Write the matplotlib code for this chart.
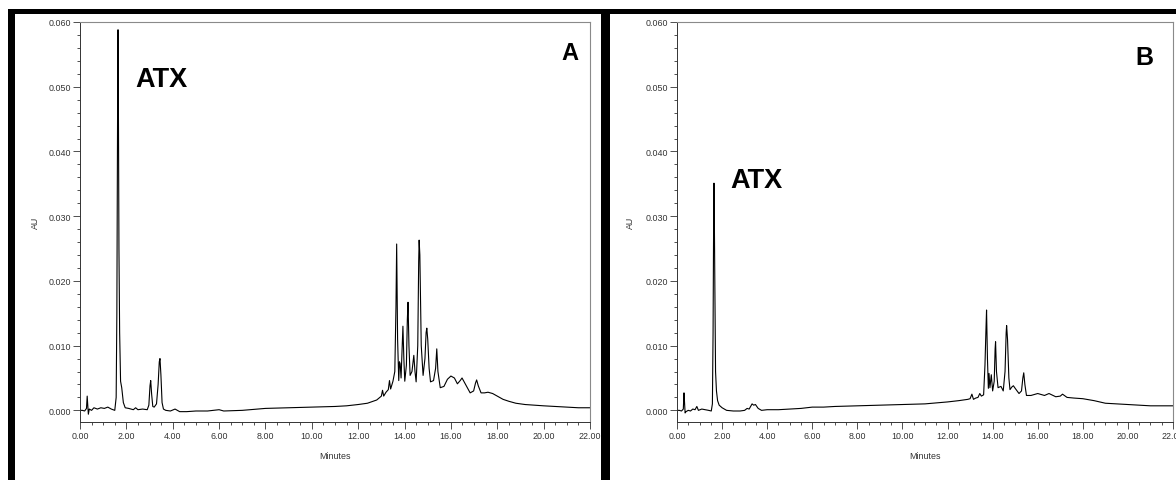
import matplotlib
matplotlib.use("Agg")
import matplotlib.pyplot as plt
from matplotlib.patches import Rectangle
from matplotlib.ticker import MultipleLocator, FormatStrFormatter

plt.rcParams['font.family'] = ['Liberation Sans', 'DejaVu Sans']

# chromatogram A (minutes, AU)
time_a = [0.00, 0.10, 0.20, 0.28, 0.31, 0.33, 0.36, 0.40, 0.50, 0.60, 0.75, 0.90, 1.05, 1.20,
          1.35, 1.50, 1.56, 1.59, 1.62, 1.64, 1.66, 1.68, 1.71, 1.75, 1.80, 1.87, 1.95, 2.10,
          2.30, 2.40, 2.50, 2.70, 2.90, 2.97, 3.02, 3.05, 3.09, 3.14, 3.20, 3.30, 3.37, 3.42,
          3.45, 3.49, 3.54, 3.60, 3.70, 3.90, 4.10, 4.30, 4.60, 5.00, 5.50, 6.00, 6.20, 7.00,
          8.00, 9.00, 10.00, 11.00, 11.50, 12.00, 12.40, 12.80, 13.00, 13.05, 13.10, 13.20,
          13.30, 13.35, 13.40, 13.50, 13.58, 13.63, 13.66, 13.70, 13.75, 13.78, 13.81, 13.85,
          13.90, 13.93, 13.97, 14.01, 14.08, 14.12, 14.15, 14.19, 14.24, 14.32, 14.40, 14.45,
          14.50, 14.57, 14.61, 14.63, 14.66, 14.72, 14.80, 14.88, 14.93, 14.96, 15.00, 15.06,
          15.12, 15.25, 15.34, 15.39, 15.44, 15.54, 15.70, 15.85, 16.00, 16.15, 16.28, 16.40,
          16.48, 16.60, 16.83, 16.98, 17.06, 17.11, 17.18, 17.30, 17.45, 17.60, 17.80, 18.00,
          18.25, 18.50, 18.80, 19.20, 19.60, 20.00, 20.50, 21.00, 21.50, 22.00]
au_a = [0.0000, 0.0000, -0.0001, 0.0003, 0.0022, 0.0010, -0.0006, 0.0002, 0.0000, 0.0004,
        0.0002, 0.0004, 0.0003, 0.0005, 0.0002, 0.0000, 0.0020, 0.0150, 0.0450, 0.0588,
        0.0440, 0.0250, 0.0120, 0.0045, 0.0035, 0.0012, 0.0004, 0.0003, 0.0001, 0.0004,
        0.0001, 0.0002, 0.0001, 0.0008, 0.0038, 0.0046, 0.0025, 0.0006, 0.0005, 0.0010,
        0.0040, 0.0075, 0.0080, 0.0055, 0.0012, 0.0002, 0.0000, -0.0001, 0.0002, -0.0002,
        -0.0002, -0.0001, -0.0001, 0.0001, -0.0001, 0.0000, 0.0003, 0.0004, 0.0005, 0.0006,
        0.0007, 0.0009, 0.0011, 0.0016, 0.0022, 0.0031, 0.0022, 0.0028, 0.0032, 0.0046,
        0.0033, 0.0045, 0.0060, 0.0160, 0.0257, 0.0110, 0.0046, 0.0075, 0.0072, 0.0050,
        0.0100, 0.0130, 0.0080, 0.0045, 0.0070, 0.0140, 0.0167, 0.0100, 0.0054, 0.0060,
        0.0085, 0.0060, 0.0044, 0.0100, 0.0230, 0.0263, 0.0240, 0.0100, 0.0054, 0.0080,
        0.0120, 0.0127, 0.0110, 0.0065, 0.0044, 0.0046, 0.0065, 0.0095, 0.0060, 0.0035,
        0.0037, 0.0048, 0.0053, 0.0050, 0.0041, 0.0046, 0.0050, 0.0042, 0.0027, 0.0030,
        0.0042, 0.0047, 0.0038, 0.0027, 0.0027, 0.0028, 0.0026, 0.0022, 0.0017, 0.0014,
        0.0011, 0.0009, 0.0008, 0.0007, 0.0006, 0.0005, 0.0004, 0.0004]

# chromatogram B (minutes, AU)
time_b = [0.00, 0.10, 0.20, 0.28, 0.31, 0.33, 0.36, 0.40, 0.50, 0.60, 0.70, 0.80, 0.88, 0.95,
          1.10, 1.25, 1.40, 1.52, 1.57, 1.60, 1.62, 1.64, 1.66, 1.68, 1.71, 1.75, 1.80, 1.87,
          2.00, 2.20, 2.50, 2.80, 3.00, 3.11, 3.20, 3.33, 3.40, 3.48, 3.60, 3.75, 4.00, 4.50,
          5.00, 5.50, 6.00, 6.50, 7.00, 8.00, 9.00, 10.00, 11.00, 12.00, 12.50, 12.90, 13.00,
          13.08, 13.15, 13.25, 13.35, 13.43, 13.50, 13.60, 13.66, 13.70, 13.73, 13.77, 13.81,
          13.84, 13.88, 13.94, 14.00, 14.07, 14.11, 14.13, 14.17, 14.24, 14.30, 14.37, 14.47,
          14.55, 14.60, 14.62, 14.66, 14.72, 14.77, 14.85, 14.92, 15.00, 15.17, 15.28, 15.34,
          15.38, 15.43, 15.50, 15.70, 16.00, 16.30, 16.50, 16.80, 17.00, 17.10, 17.30, 17.60,
          18.00, 18.50, 19.00, 19.50, 20.00, 20.50, 21.00, 21.50, 22.00]
au_b = [0.0000, 0.0000, -0.0001, 0.0002, 0.0027, 0.0015, -0.0004, -0.0002, 0.0000, -0.0001,
        0.0002, 0.0001, 0.0006, 0.0000, 0.0002, 0.0001, 0.0000, -0.0001, 0.0010, 0.0120,
        0.0260, 0.0351, 0.0280, 0.0188, 0.0060, 0.0030, 0.0015, 0.0008, 0.0004, 0.0000,
        -0.0001, -0.0001, 0.0000, 0.0003, 0.0002, 0.0010, 0.0008, 0.0009, 0.0003, 0.0000,
        0.0001, 0.0001, 0.0002, 0.0003, 0.0005, 0.0005, 0.0006, 0.0007, 0.0008, 0.0009,
        0.0010, 0.0013, 0.0015, 0.0017, 0.0018, 0.0025, 0.0017, 0.0019, 0.0020, 0.0026,
        0.0022, 0.0024, 0.0070, 0.0120, 0.0155, 0.0080, 0.0034, 0.0057, 0.0035, 0.0055,
        0.0030, 0.0045, 0.0095, 0.0106, 0.0060, 0.0035, 0.0036, 0.0037, 0.0030, 0.0060,
        0.0120, 0.0131, 0.0110, 0.0050, 0.0032, 0.0036, 0.0038, 0.0034, 0.0026, 0.0030,
        0.0050, 0.0058, 0.0040, 0.0023, 0.0023, 0.0026, 0.0023, 0.0026, 0.0021, 0.0022,
        0.0025, 0.0020, 0.0019, 0.0018, 0.0015, 0.0011, 0.0010, 0.0009, 0.0008, 0.0007,
        0.0007, 0.0007]

W, H = 1176, 481
fig = plt.figure(figsize=(W / 100, H / 100), dpi=100)


def px_rect(x0, y0, x1, y1):
    # pixel box (top-left origin) -> figure fraction rect
    return [x0 / W, 1 - y1 / H, (x1 - x0) / W, (y1 - y0) / H]


# black frames of the pasted screenshots
for box in [(8, 10, 1176, 15), (8, 10, 15, 481), (601, 10, 610, 481)]:
    r = px_rect(*box)
    fig.patches.append(Rectangle((r[0], r[1]), r[2], r[3], transform=fig.transFigure,
                                 facecolor='black', edgecolor='none'))

panels = [
    (px_rect(80, 23, 590, 423), time_a, au_a, 'A', (0.108, 0.84), (0.943, 0.9075), 17, -0.078),
    (px_rect(677, 23, 1173, 423), time_b, au_b, 'B', (0.107, 0.5875), (0.925, 0.895), 18, -0.085),
]

for rect, t, au, tag, atx_pos, tag_pos, tag_size, au_x in panels:
    ax = fig.add_axes(rect)
    ax.plot(t, au, color='black', lw=0.8)
    ax.set_xlim(0, 22)
    ax.set_ylim(-0.0018, 0.060)
    ax.xaxis.set_major_locator(MultipleLocator(2))
    ax.xaxis.set_minor_locator(MultipleLocator(0.5))
    ax.yaxis.set_major_locator(MultipleLocator(0.01))
    ax.yaxis.set_minor_locator(MultipleLocator(0.002))
    ax.xaxis.set_major_formatter(FormatStrFormatter('%.2f'))
    ax.yaxis.set_major_formatter(FormatStrFormatter('%.3f'))
    ax.tick_params(which='major', direction='out', length=5, width=0.6, colors='#333333',
                   labelsize=6.4, pad=1.5)
    ax.tick_params(which='minor', direction='out', length=2.5, width=0.6, colors='#333333')
    for side in ['left', 'bottom']:
        ax.spines[side].set_color('#333333')
        ax.spines[side].set_linewidth(0.7)
    for side in ['top', 'right']:
        ax.spines[side].set_color('#8a8a8a')
        ax.spines[side].set_linewidth(0.8)
    ax.set_ylabel('AU', fontsize=6.4, color='#333333')
    ax.yaxis.set_label_coords(au_x, 0.5)
    ax.set_xlabel('Minutes', fontsize=6.4, color='#333333')
    ax.xaxis.set_label_coords(0.5, -0.0725)
    ax.text(atx_pos[0], atx_pos[1], 'ATX', transform=ax.transAxes, fontsize=19.5,
            fontweight='bold', ha='left', va='baseline')
    ax.text(tag_pos[0], tag_pos[1], tag, transform=ax.transAxes, fontsize=tag_size,
            fontweight='bold', ha='left', va='baseline')

plt.savefig('out.png', dpi=100)
